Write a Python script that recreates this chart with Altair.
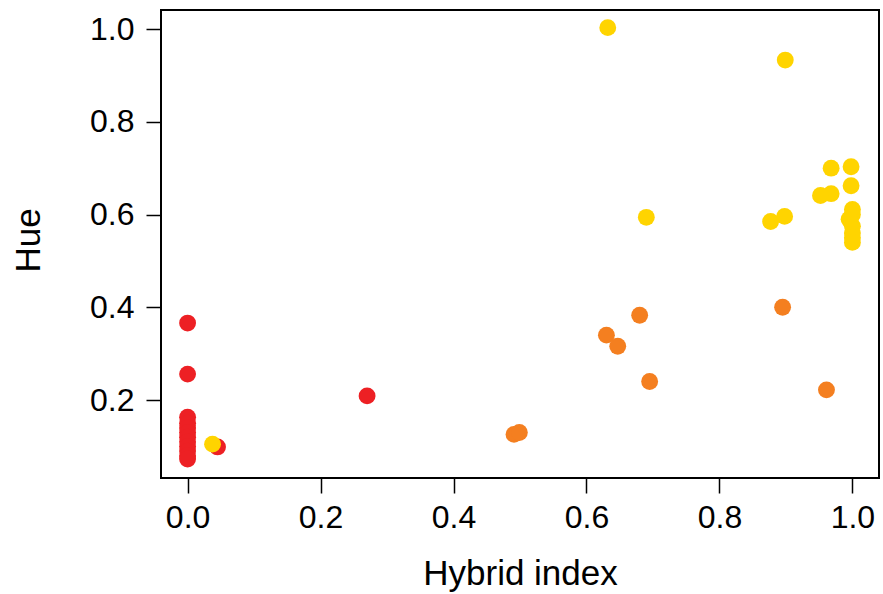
import altair as alt
import pandas as pd

# Red group (parental, hybrid index ~0)
red_x = [0.0, 0.0, 0.0, 0.0, 0.0, 0.0, 0.0, 0.0, 0.0, 0.0, 0.0, 0.0, 0.045, 0.270]
red_y = [0.366, 0.256, 0.163, 0.150, 0.140, 0.130, 0.120, 0.110, 0.100, 0.090, 0.080, 0.073, 0.099, 0.209]

# Orange group (intermediate)
orange_x = [0.491, 0.499, 0.630, 0.647, 0.680, 0.695, 0.895, 0.961]
orange_y = [0.126, 0.130, 0.340, 0.316, 0.383, 0.240, 0.400, 0.222]

# Yellow group
yellow_x = [0.0375, 0.632, 0.899, 0.690, 0.877, 0.898, 0.968, 0.998, 0.968, 0.952,
            0.998, 1.0, 1.0, 0.995, 1.0, 1.0, 1.0, 1.0]
yellow_y = [0.105, 1.003, 0.933, 0.594, 0.585, 0.596, 0.700, 0.703, 0.645, 0.641,
            0.662, 0.611, 0.600, 0.590, 0.575, 0.560, 0.550, 0.540]

groups = ["red", "orange", "yellow"]
colors = ["#ED2024", "#F47F20", "#FFD400"]

rows = []
for g, xs, ys in [("red", red_x, red_y), ("orange", orange_x, orange_y), ("yellow", yellow_x, yellow_y)]:
    for xv, yv in zip(xs, ys):
        rows.append({"x": xv, "y": yv, "group": g})
df = pd.DataFrame(rows)

font = "Liberation Sans"

chart = alt.Chart(df).mark_circle(size=285, opacity=1).encode(
    x=alt.X("x:Q",
            scale=alt.Scale(domain=[-0.04, 1.04], nice=False, zero=False),
            axis=alt.Axis(title="Hybrid index", values=[0, 0.2, 0.4, 0.6, 0.8, 1.0],
                          format=".1f", grid=False, domain=False,
                          tickSize=15, tickWidth=1.5, tickColor="black",
                          labelPadding=9, labelFontSize=32, labelColor="black",
                          labelFont=font, titleFont=font, titleFontSize=35,
                          titleFontWeight="normal", titleColor="black",
                          titleY=95, titleBaseline="middle")),
    y=alt.Y("y:Q",
            scale=alt.Scale(domain=[0.032, 1.041], nice=False, zero=False),
            axis=alt.Axis(title="Hue", values=[0.2, 0.4, 0.6, 0.8, 1.0],
                          format=".1f", grid=False, domain=False,
                          tickSize=15, tickWidth=1.5, tickColor="black",
                          labelPadding=12, labelFontSize=32, labelColor="black",
                          labelFont=font, titleFont=font, titleFontSize=35,
                          titleFontWeight="normal", titleColor="black",
                          titleAngle=-90, titleX=-133, titleY=230,
                          titleAlign="center", titleBaseline="middle")),
    color=alt.Color("group:N", scale=alt.Scale(domain=groups, range=colors), legend=None),
).properties(
    width=718,
    height=468,
    autosize=alt.AutoSizeParams(type="none"),
    padding={"left": 161, "top": 10, "right": 4, "bottom": 116},
).configure(
    background="white",
    view=alt.ViewConfig(stroke="black", strokeWidth=2),
)

chart.save("out.html", embed_options={"renderer": "svg", "actions": False})
